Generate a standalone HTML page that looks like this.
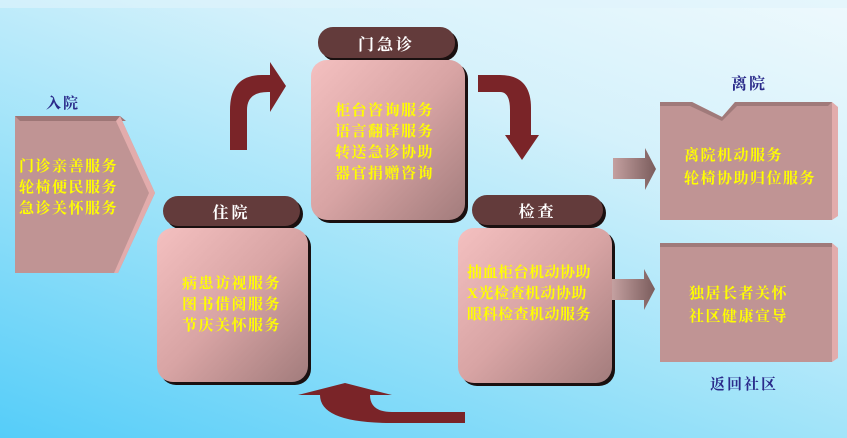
<!DOCTYPE html>
<html><head><meta charset="utf-8"><style>
body{margin:0;width:847px;height:438px;overflow:hidden;background:linear-gradient(20deg,#55cdf9 0%,#9fe3f9 40%,#d4f1fb 70%,#eef9fd 100%);font-family:"Liberation Serif","Noto Serif CJK SC",serif;}
svg{position:absolute;left:0;top:0}
.t{position:absolute;color:#ffff00;font-weight:bold;font-size:15px;line-height:21px;letter-spacing:1.5px;white-space:nowrap;font-family:"Liberation Serif","Noto Serif CJK SC",serif}
.lb{position:absolute;color:#2a2a8a;font-weight:bold;font-size:15px;letter-spacing:2px}
.pl{position:absolute;color:#fff;font-weight:bold;font-size:16px;text-align:center;letter-spacing:3px}
</style></head><body>
<svg width="847" height="438">
<defs>
<linearGradient id="bx" x1="0" y1="0" x2="1" y2="1"><stop offset="0" stop-color="#f4c0c0"/><stop offset="0.5" stop-color="#d8a4a4"/><stop offset="1" stop-color="#a27c7c"/></linearGradient>
<linearGradient id="ar" x1="0" y1="0" x2="1" y2="0"><stop offset="0" stop-color="#c4a0a0"/><stop offset="1" stop-color="#7a5c5c"/></linearGradient>
</defs>
<rect x="0" y="0" width="847" height="8" fill="#dff4fb" opacity="0.6"/>
<!-- 入院 pentagon -->
<polygon points="15,116 120,116 155,193 118,273 15,273" fill="#c09494"/>
<polygon points="15,116 120,116 126,121 20,121" fill="#9e7676"/>
<polygon points="120,116 155,193 118,273 114,273 149,193 116,121" fill="#e2acac"/>
<!-- pills -->
<rect x="321" y="30" width="137" height="31" rx="15" fill="#1a1010"/>
<rect x="318" y="27" width="137" height="31" rx="15" fill="#633b3b"/>
<rect x="166" y="199" width="137" height="30" rx="15" fill="#1a1010"/>
<rect x="163" y="196" width="137" height="30" rx="15" fill="#633b3b"/>
<rect x="475" y="198" width="131" height="30" rx="15" fill="#1a1010"/>
<rect x="472" y="195" width="131" height="30" rx="15" fill="#633b3b"/>
<!-- boxes -->
<rect x="314" y="63" width="154" height="160" rx="16" fill="#1a1010"/>
<rect x="311" y="60" width="154" height="160" rx="16" fill="url(#bx)"/>
<rect x="160" y="231" width="151" height="154" rx="16" fill="#1a1010"/>
<rect x="157" y="228" width="151" height="154" rx="16" fill="url(#bx)"/>
<rect x="461" y="231" width="154" height="155" rx="16" fill="#1a1010"/>
<rect x="458" y="228" width="154" height="155" rx="16" fill="url(#bx)"/>
<!-- right boxes -->
<polygon points="660,102 692,102 722,117 735,102 832,102 832,220 660,220" fill="#c09494"/>
<polygon points="660,102 692,102 722,117 735,102 832,102 828,106 737,106 722,121 690,106 660,106" fill="#a07a7a"/>
<polygon points="832,102 838,107 838,216 832,220" fill="#e2acac"/>
<rect x="660" y="243" width="172" height="119" fill="#c09494"/>
<rect x="660" y="243" width="172" height="4" fill="#a07a7a"/>
<polygon points="832,243 838,248 838,358 832,362" fill="#e2acac"/>
<!-- gradient arrows -->
<polygon points="613,158 645,158 645,148 656,169 645,190 645,179 613,179" fill="url(#ar)"/>
<polygon points="612,279 644,279 644,269 655,289 644,310 644,300 612,300" fill="url(#ar)"/>
<!-- curved arrows -->
<path d="M230,150 L247,150 L247,110 Q247,92 268,92 L270,92 L270,112 L286,86 L270,62 L270,75 L262,75 Q230,75 230,110 Z" fill="#7a2428"/>
<path d="M478,75 L478,92 L500,92 Q510,92 510,110 L510,135 L505,135 L522,160 L539,135 L531,135 L531,108 Q531,75 500,75 Z" fill="#7a2428"/>
<path d="M465,412 L465,423 L392,423 Q320,423 320,395 L298,395 L345,383 L392,395 L370,395 Q370,412 392,412 Z" fill="#7a2428"/>
</svg>
<div class="lb" style="left:46px;top:92px">入院</div>
<div class="lb" style="left:731px;top:71px;font-size:16px">离院</div>
<div class="lb" style="left:710px;top:373px">返回社区</div>
<div class="pl" style="left:318px;top:32px;width:137px">门急诊</div>
<div class="pl" style="left:163px;top:200px;width:137px">住院</div>
<div class="pl" style="left:472px;top:199px;width:131px">检查</div>
<div class="t" style="left:19px;top:157px">门诊亲善服务<br>轮椅便民服务<br>急诊关怀服务</div>
<div class="t" style="left:335px;top:101px">柜台咨询服务<br>语言翻译服务<br>转送急诊协助<br>器官捐赠咨询</div>
<div class="t" style="left:182px;top:274px">病患访视服务<br>图书借阅服务<br>节庆关怀服务</div>
<div class="t" style="left:467px;top:263px;letter-spacing:0.5px">抽血柜台机动协助<br>X光检查机动协助<br>眼科检查机动服务</div>
<div class="t" style="left:684px;top:145px;line-height:23px">离院机动服务<br>轮椅协助归位服务</div>
<div class="t" style="left:689px;top:283px;line-height:23px">独居长者关怀<br>社区健康宣导</div>
</body></html>
